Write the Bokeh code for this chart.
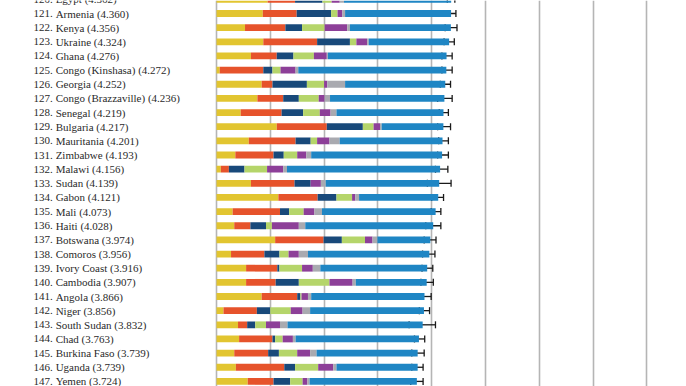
from bokeh.plotting import figure
from bokeh.models import Range1d, ColumnDataSource, Whisker, TeeHead, FixedTicker
from bokeh.core.properties import value
from bokeh.embed import file_html
from bokeh.resources import INLINE

ranks = [120, 121, 122, 123, 124, 125, 126, 127, 128, 129, 130, 131, 132, 133,
         134, 135, 136, 137, 138, 139, 140, 141, 142, 143, 144, 145, 146, 147]
countries = ["Egypt", "Armenia", "Kenya", "Ukraine", "Ghana", "Congo (Kinshasa)",
             "Georgia", "Congo (Brazzaville)", "Senegal", "Bulgaria", "Mauritania",
             "Zimbabwe", "Malawi", "Sudan", "Gabon", "Mali", "Haiti", "Botswana",
             "Comoros", "Ivory Coast", "Cambodia", "Angola", "Niger", "South Sudan",
             "Chad", "Burkina Faso", "Uganda", "Yemen"]
scores = [4.362, 4.360, 4.356, 4.324, 4.276, 4.272, 4.252, 4.236, 4.219, 4.217,
          4.201, 4.193, 4.156, 4.139, 4.121, 4.073, 4.028, 3.974, 3.956, 3.916,
          3.907, 3.866, 3.856, 3.832, 3.763, 3.739, 3.739, 3.724]
gdp = [0.95, 0.86, 0.53, 0.87, 0.64, 0.06, 0.84, 0.76, 0.45, 1.12, 0.60, 0.35, 0.08, 0.64,
       1.15, 0.30, 0.33, 1.09, 0.27, 0.55, 0.55, 0.84, 0.13, 0.40, 0.42, 0.33, 0.36, 0.58]
social = [0.51, 0.63, 0.75, 1.00, 0.48, 0.81, 0.20, 0.48, 0.76, 0.93, 0.87, 0.71, 0.15, 0.81,
          0.73, 0.88, 0.30, 0.90, 0.62, 0.58, 0.55, 0.66, 0.62, 0.17, 0.62, 0.63, 0.90, 0.48]
health = [0.51, 0.64, 0.31, 0.61, 0.31, 0.17, 0.64, 0.29, 0.40, 0.67, 0.28, 0.19, 0.29, 0.30,
          0.35, 0.17, 0.29, 0.34, 0.28, 0.04, 0.43, 0.06, 0.25, 0.15, 0.05, 0.20, 0.20, 0.31]
freedom = [0.17, 0.12, 0.42, 0.12, 0.38, 0.15, 0.32, 0.37, 0.31, 0.20, 0.12, 0.25, 0.42, 0.00,
           0.29, 0.27, 0.11, 0.43, 0.17, 0.42, 0.57, 0.02, 0.38, 0.20, 0.14, 0.34, 0.43, 0.23]
generosity = [0.15, 0.09, 0.42, 0.20, 0.24, 0.28, 0.06, 0.11, 0.20, 0.12, 0.23, 0.17, 0.30, 0.19,
              0.06, 0.20, 0.50, 0.14, 0.19, 0.20, 0.43, 0.12, 0.22, 0.26, 0.19, 0.24, 0.28, 0.09]
corruption = [0.08, 0.05, 0.05, 0.03, 0.02, 0.05, 0.33, 0.10, 0.11, 0.03, 0.19, 0.09, 0.07, 0.09,
              0.07, 0.14, 0.12, 0.09, 0.17, 0.14, 0.06, 0.06, 0.14, 0.14, 0.05, 0.12, 0.06, 0.04]
ci_low = [4.29, 4.27, 4.25, 4.23, 4.19, 4.19, 4.16, 4.11, 4.14, 4.11, 4.13, 4.11, 4.07, 3.92,
          4.00, 3.99, 3.89, 3.86, 3.83, 3.82, 3.80, 3.77, 3.77, 3.58, 3.68, 3.63, 3.63, 3.61]
ci_high = [4.43, 4.45, 4.47, 4.42, 4.38, 4.38, 4.35, 4.38, 4.31, 4.35, 4.31, 4.31, 4.30, 4.36,
           4.22, 4.17, 4.17, 4.08, 4.06, 4.02, 4.03, 3.99, 3.96, 4.07, 3.87, 3.86, 3.84, 3.84]

parts = ["gdp", "social", "health", "freedom", "generosity", "corruption", "dystopia"]
colors = ["#E2C530", "#E6532B", "#18497A", "#B5D56A", "#8D3F98", "#A9AAB0", "#1F86C4"]

dystopia = [s - (a + b + c + d + e + f) for s, a, b, c, d, e, f in
            zip(scores, gdp, social, health, freedom, generosity, corruption)]

source = ColumnDataSource(dict(
    y=ranks,
    gdp=gdp, social=social, health=health, freedom=freedom,
    generosity=generosity, corruption=corruption, dystopia=dystopia,
    lo=ci_low, hi=ci_high,
    rank_label=[f"{r}." for r in ranks],
    name_label=[f"{c} ({s:.3f})" for c, s in zip(countries, scores)],
))

p = figure(width=686, height=386, output_backend="svg", toolbar_location=None,
           x_range=Range1d(-4.015, 8.736), y_range=Range1d(147.36, 120.081),
           min_border=0, outline_line_color=None)
p.xaxis.visible = False
p.yaxis.visible = False
p.ygrid.visible = False
p.xgrid.ticker = FixedTicker(ticks=list(range(0, 9)))
p.xgrid.grid_line_color = "#B5B5B5"
p.xgrid.grid_line_width = 1.6

p.hbar_stack(parts, y="y", height=0.48, color=colors, source=source, line_width=0)

p.add_layout(Whisker(source=source, base="y", lower="lo", upper="hi", dimension="width",
                     line_color="#1a1a1a", line_width=1.3,
                     lower_head=TeeHead(size=7, line_color="#1a1a1a", line_width=1.3),
                     upper_head=TeeHead(size=7, line_color="#1a1a1a", line_width=1.3)))

p.text(x=-3.40, y="y", text="rank_label", source=source, text_baseline="middle",
       text_align="left", text_font=value("Liberation Serif"), text_font_size="11px",
       text_color="#2a2a2a")
p.text(x=-2.99, y="y", text="name_label", source=source, text_baseline="middle",
       text_align="left", text_font=value("Liberation Serif"), text_font_size="11px",
       text_color="#2a2a2a")

open("out.html", "w").write(file_html(p, INLINE))
